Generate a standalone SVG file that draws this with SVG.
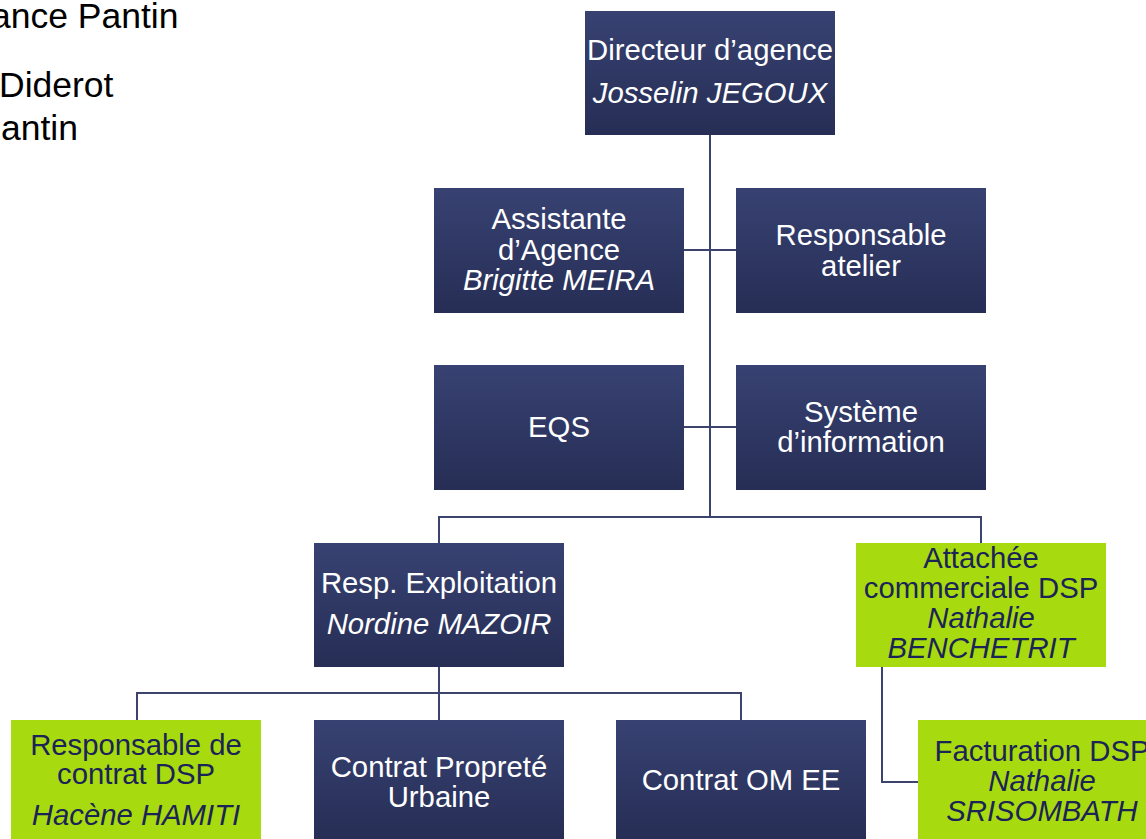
<svg xmlns="http://www.w3.org/2000/svg" width="1146" height="839" viewBox="0 0 1146 839">
<defs>
<linearGradient id="navy" x1="0" y1="0" x2="0" y2="1">
<stop offset="0" stop-color="#384272"/>
<stop offset="1" stop-color="#262e55"/>
</linearGradient>
<style>
text{font-family:"Liberation Sans",Arial,Helvetica,sans-serif;font-size:29.3px;text-anchor:middle}
.title{font-size:35.5px;fill:#000;text-anchor:start}
.nb{fill:url(#navy)}
.gb{fill:#a8da10}
.wt{fill:#ffffff}
.dt{fill:#1b2456}
.it{font-style:italic}
.conn{stroke:#3c446e;stroke-width:2;fill:none}
</style>
</defs>
<rect width="1146" height="839" fill="#ffffff"/>
<g id="title">
<text class="title" x="-9" y="28">ance Pantin</text>
<text class="title" x="-1" y="97">Diderot</text>
<text class="title" x="1" y="140">antin</text>
</g>
<g id="connectors">
<path class="conn" d="M710,135 V517"/>
<path class="conn" d="M684,250 H736"/>
<path class="conn" d="M684,427 H736"/>
<path class="conn" d="M439,543 V517 H981 V543"/>
<path class="conn" d="M439,667 V693"/>
<path class="conn" d="M137,720 V693 H741 V720"/>
<path class="conn" d="M439,693 V720"/>
<path class="conn" d="M882,667 V782 H918"/>
</g>
<g id="directeur">
<rect class="nb" x="585" y="11" width="250" height="124"/>
<text class="wt" x="710" y="60">Directeur d’agence</text>
<text class="wt it" x="710" y="103">Josselin JEGOUX</text>
</g>
<g id="assistante">
<rect class="nb" x="434" y="188" width="250" height="125"/>
<text class="wt" x="559" y="229">Assistante</text>
<text class="wt" x="559" y="260">d’Agence</text>
<text class="wt it" x="559" y="290">Brigitte MEIRA</text>
</g>
<g id="atelier">
<rect class="nb" x="736" y="188" width="250" height="125"/>
<text class="wt" x="861" y="245">Responsable</text>
<text class="wt" x="861" y="276">atelier</text>
</g>
<g id="eqs">
<rect class="nb" x="434" y="365" width="250" height="125"/>
<text class="wt" x="559" y="437">EQS</text>
</g>
<g id="systeme">
<rect class="nb" x="736" y="365" width="250" height="125"/>
<text class="wt" x="861" y="422">Système</text>
<text class="wt" x="861" y="452">d’information</text>
</g>
<g id="exploitation">
<rect class="nb" x="314" y="543" width="250" height="124"/>
<text class="wt" x="439" y="593">Resp. Exploitation</text>
<text class="wt it" x="439" y="634">Nordine MAZOIR</text>
</g>
<g id="attachee">
<rect class="gb" x="856" y="543" width="250" height="124"/>
<text class="dt" x="981" y="568">Attachée</text>
<text class="dt" x="981" y="598">commerciale DSP</text>
<text class="dt it" x="981" y="628">Nathalie</text>
<text class="dt it" x="981" y="658">BENCHETRIT</text>
</g>
<g id="resp-contrat">
<rect class="gb" x="11" y="720" width="250" height="119"/>
<text class="dt" x="136" y="755">Responsable de</text>
<text class="dt" x="136" y="784">contrat DSP</text>
<text class="dt it" x="136" y="825">Hacène HAMITI</text>
</g>
<g id="proprete">
<rect class="nb" x="314" y="720" width="250" height="119"/>
<text class="wt" x="439" y="777">Contrat Propreté</text>
<text class="wt" x="439" y="807">Urbaine</text>
</g>
<g id="om-ee">
<rect class="nb" x="616" y="720" width="250" height="119"/>
<text class="wt" x="741" y="790">Contrat OM EE</text>
</g>
<g id="facturation">
<rect class="gb" x="918" y="720" width="250" height="119"/>
<text class="dt" x="1042" y="761">Facturation DSP</text>
<text class="dt it" x="1042" y="791">Nathalie</text>
<text class="dt it" x="1042" y="821">SRISOMBATH</text>
</g>
</svg>
